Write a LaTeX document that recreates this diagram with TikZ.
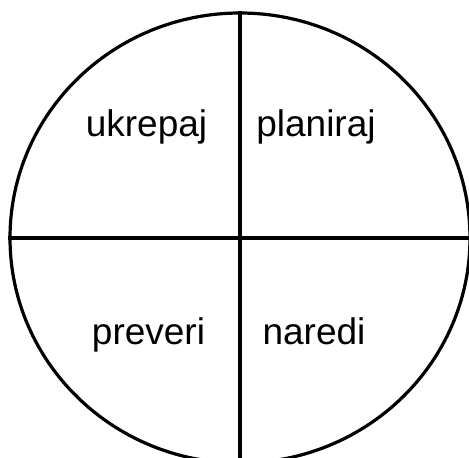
\documentclass[tikz,border=0pt]{standalone}
\usepackage{fontspec}
\setmainfont{Liberation Sans}
\usetikzlibrary{shapes.geometric}

\begin{document}
\begin{tikzpicture}[x=1pt, y=-1pt,
ring/.style={draw, ellipse, line width=3.2pt, minimum width=460pt, minimum height=450pt, inner sep=0pt},
axis/.style={line width=3.2pt},
lbl/.style={anchor=base, inner sep=0pt, font=\fontsize{37}{44}\selectfont}]
\useasboundingbox (0,0) rectangle (469,458);
\clip (0,0) rectangle (469,458);
\node[ring] (c) at (240,238) {};
\coordinate (r) at (469,238);
\coordinate (b) at (240,458);
\draw[axis] (c.west)--(r);
\draw[axis] (c.north)--(b);
\node[lbl] (uk) at (146.5,136) {ukrepaj};
\node[lbl] (pl) at (316,136) {planiraj};
\node[lbl] (pr) at (148.5,344) {preveri};
\node[lbl] (na) at (314,344) {naredi};
\end{tikzpicture}
\end{document}
